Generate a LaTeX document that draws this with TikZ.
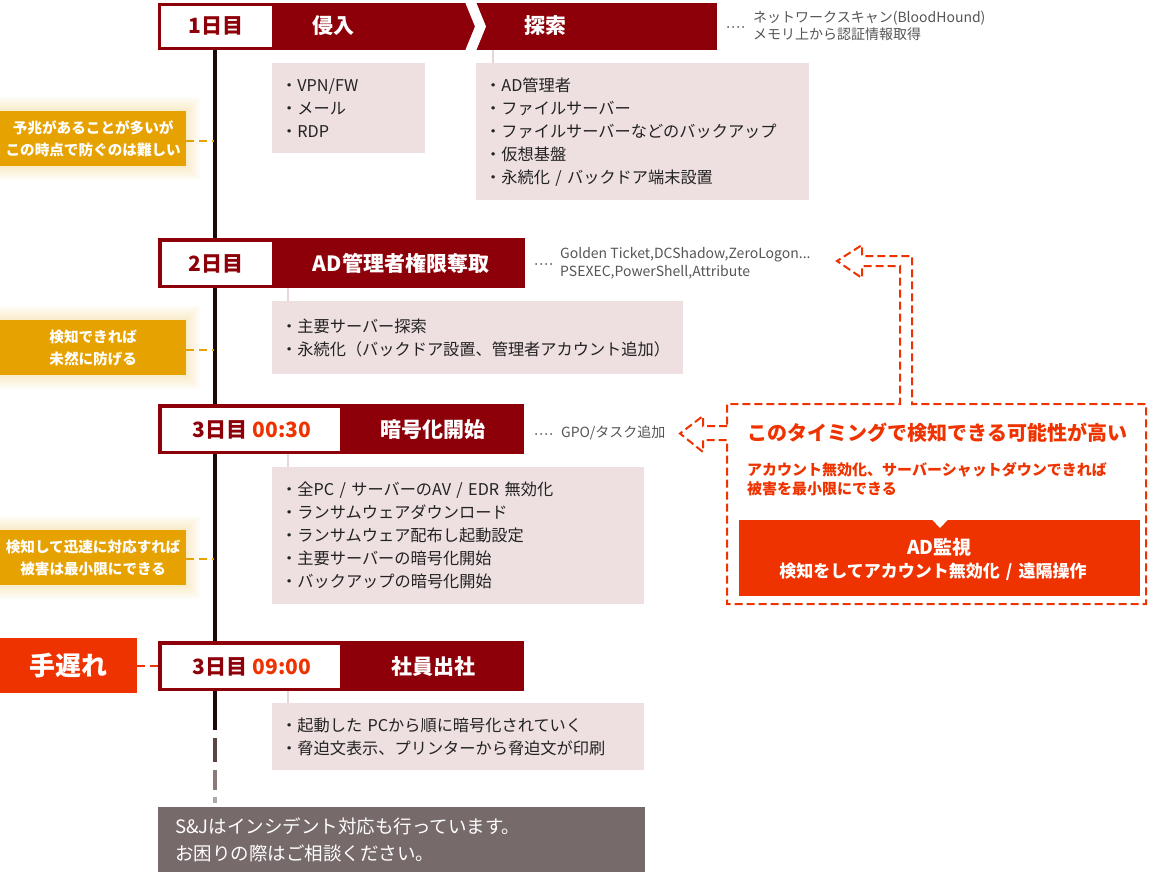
\documentclass[tikz,border=0pt]{standalone}
\usepackage{fontspec}
\setmainfont{Noto Sans CJK JP}
\definecolor{hdred}{HTML}{8E0009}
\definecolor{alertc}{HTML}{EE3300}
\definecolor{goldc}{HTML}{E6A200}
\definecolor{pinkc}{HTML}{EEE0E0}
\definecolor{pinkline}{HTML}{E8D6D6}
\definecolor{notegrey}{HTML}{555555}
\definecolor{txtdark}{HTML}{222222}
\definecolor{botgrey}{HTML}{776A6A}
\definecolor{tline}{HTML}{1C0A0A}
\newcommand\myglow[4]{%
  \foreach \r in {2,4,...,14}{\fill[goldc,opacity=0.03] (#1-\r,#2-\r) rectangle (#3+\r,#4+\r);}}
\newcommand\mydots[2]{%
  \foreach \i in {0,1,2,3}{\fill[notegrey] (#1+\i*5,#2) circle (1);}}
\tikzset{
  hdtxt/.style={text=white,inner sep=0,font=\fontsize{21}{21}\selectfont\bfseries},
  daytxt/.style={text=hdred,inner sep=0,font=\fontsize{21}{21}\selectfont\bfseries},
  pinkbox/.style={fill=pinkc,anchor=north west,inner xsep=9pt,inner ysep=0pt,align=left,
    text=txtdark,font=\fontsize{16.2}{23}\selectfont},
  notetxt/.style={anchor=west,align=left,inner sep=0,text=notegrey,font=\fontsize{14}{17.5}\selectfont},
  sidelbl/.style={fill=goldc,anchor=north west,minimum width=186pt,minimum height=55pt,inner sep=0,
    align=center,text=white,font=\fontsize{14.6}{22}\selectfont\bfseries},
  goldconn/.style={goldc,line width=2pt,dash pattern=on 8pt off 5pt},
  pinkconn/.style={pinkline,line width=2pt},
  alertline/.style={alertc,line width=2pt,dash pattern=on 8pt off 4pt,line join=miter},
}
\begin{document}
\begin{tikzpicture}[x=1pt,y=-1pt]
\useasboundingbox (0,0) rectangle (1149,872);

% ---------- timeline ----------
\coordinate (t0) at (215,50);
\coordinate (t1) at (215,730);
\coordinate (t2a) at (215,738); \coordinate (t2b) at (215,762);
\coordinate (t3a) at (215,770); \coordinate (t3b) at (215,790);
\coordinate (t4a) at (215,797); \coordinate (t4b) at (215,803);
\draw[tline,line width=4.5pt] (t0) -- (t1);
\draw[color={rgb,255:red,90;green,69;blue,69},line width=4.5pt] (t2a) -- (t2b);
\draw[color={rgb,255:red,138;green,122;blue,122},line width=4.5pt] (t3a) -- (t3b);
\draw[color={rgb,255:red,176;green,168;blue,168},line width=4.5pt] (t4a) -- (t4b);

% ---------- header 1 ----------
\fill[hdred] (158,3) rectangle (717,50);
\fill[white] (161,6) rectangle (272,47);
\fill[white] (465,2) -- (476,2) -- (486,26.5) -- (476,51) -- (465,51) -- (475,26.5) -- cycle;
\node[daytxt] (d1) at (216,26) {1日目};
\node[hdtxt] (h1a) at (333,26) {侵入};
\node[hdtxt] (h1b) at (545,26) {探索};
\mydots{728}{27}
\node[notetxt] (n1) at (753,26) {ネットワークスキャン(BloodHound)\\メモリ上から認証情報取得};

% detail boxes day 1
\node[pinkbox,minimum width=153pt,minimum height=90pt,text width=135pt] (bA) at (272,63)
  {・VPN/FW\\・メール\\・RDP};
\node[pinkbox,minimum width=333pt,minimum height=137pt,text width=315pt] (bB) at (476,63)
  {・AD管理者\\・ファイルサーバー\\・ファイルサーバーなどのバックアップ\\・仮想基盤\\・永続化 / バックドア端末設置};
\coordinate (cB1) at (493,50); \coordinate (cB2) at (493,63);
\draw[pinkconn] (cB1) -- (cB2);

% side label 1
\myglow{0}{111}{186}{166}
\node[sidelbl] (s1) at (0,111) {予兆があることが多いが\\この時点で防ぐのは難しい};
\coordinate (s1e) at (214,141);
\draw[goldconn] (s1.east |- s1e) -- (s1e);

% ---------- header 2 ----------
\fill[hdred] (158,238) rectangle (525,288);
\fill[white] (161.5,241.5) rectangle (272,284.5);
\node[daytxt] (d2) at (216,263.5) {2日目};
\node[hdtxt] (h2) at (401,263.5) {AD管理者権限奪取};
\mydots{536}{264}
\node[notetxt] (n2) at (560,263.5) {Golden Ticket,DCShadow,ZeroLogon...\\PSEXEC,PowerShell,Attribute};
\node[pinkbox,minimum width=411pt,minimum height=73pt,text width=393pt] (bC) at (272,301)
  {・主要サーバー探索\\・永続化（バックドア設置、管理者アカウント追加）};
\coordinate (cC1) at (288,288); \coordinate (cC2) at (288,301);
\draw[pinkconn] (cC1) -- (cC2);

% side label 2
\myglow{0}{320}{186}{375}
\node[sidelbl] (s2) at (0,320) {検知できれば\\未然に防げる};
\coordinate (s2e) at (214,350);
\draw[goldconn] (s2.east |- s2e) -- (s2e);

% ---------- header 3 ----------
\fill[hdred] (158,404) rectangle (524,454);
\fill[white] (161.5,407.5) rectangle (340,450.5);
\node[daytxt] (d3) at (252,429.5) {3日目 \textcolor{alertc}{00:30}};
\node[hdtxt] (h3) at (433,429.5) {暗号化開始};
\mydots{536}{434}
\node[notetxt] (n3) at (561,433) {GPO/タスク追加};
\node[pinkbox,minimum width=372pt,minimum height=137pt,text width=354pt] (bD) at (272,467)
  {・全PC / サーバーのAV / EDR 無効化\\・ランサムウェアダウンロード\\・ランサムウェア配布し起動設定\\・主要サーバーの暗号化開始\\・バックアップの暗号化開始};
\coordinate (cD1) at (288,454); \coordinate (cD2) at (288,467);
\draw[pinkconn] (cD1) -- (cD2);

% side label 3
\myglow{0}{530}{186}{585}
\node[sidelbl] (s3) at (0,530) {検知して迅速に対応すれば\\被害は最小限にできる};
\coordinate (s3e) at (214,559);
\draw[goldconn] (s3.east |- s3e) -- (s3e);

% ---------- header 4 ----------
\fill[hdred] (158,641) rectangle (524,691);
\fill[white] (161.5,644.5) rectangle (340,687.5);
\node[daytxt] (d4) at (252,666.5) {3日目 \textcolor{alertc}{09:00}};
\node[hdtxt] (h4) at (433,666.5) {社員出社};
\node[fill=alertc,anchor=north west,minimum width=137pt,minimum height=55pt,inner sep=0,
  text=white,font=\fontsize{26}{26}\selectfont\bfseries] (late) at (0,638) {手遅れ};
\coordinate (lateE) at (158,665.5);
\draw[alertc,line width=2pt,dash pattern=on 8pt off 5pt] (late.east |- lateE) -- (lateE);
\node[pinkbox,minimum width=372pt,minimum height=67pt,text width=354pt] (bE) at (272,703)
  {・起動した PCから順に暗号化されていく\\・脅迫文表示、プリンターから脅迫文が印刷};
\coordinate (cE1) at (288,691); \coordinate (cE2) at (288,703);
\draw[pinkconn] (cE1) -- (cE2);

% ---------- bottom box ----------
\node[fill=botgrey,anchor=north west,minimum width=487pt,minimum height=65pt,inner xsep=17pt,
  inner ysep=0,text width=453pt,align=left,text=white,font=\fontsize{18.5}{27}\selectfont] (bot) at (158,807)
  {S\&Jはインシデント対応も行っています。\\お困りの際はご相談ください。};

% ---------- right dashed box with arrows ----------
\draw[alertline] (727,426) -- (703,426) -- (703,416) -- (680,433.5) -- (703,452) -- (703,440)
  -- (727,440) -- (727,604) -- (1146,604) -- (1146,404) -- (912,404) -- (912,256) -- (862,256)
  -- (862,245) -- (837,261) -- (862,278) -- (862,266) -- (900,266) -- (900,404) -- (727,404) -- cycle;
\node[text=alertc,inner sep=0,font=\fontsize{20}{20}\selectfont\bfseries] (rt) at (937.5,433)
  {このタイミングで検知できる可能性が高い};
\node[anchor=west,align=left,inner sep=0,text=alertc,font=\fontsize{15}{19}\selectfont\bfseries] (rs) at (747,479.5)
  {アカウント無効化、サーバーシャットダウンできれば\\被害を最小限にできる};
\node[fill=alertc,anchor=north west,minimum width=401pt,minimum height=76pt,inner sep=0] (ad) at (739,520) {};
\fill[white] (932,519.5) -- (948,519.5) -- (940,528) -- cycle;
\node[text=white,inner sep=0,font=\fontsize{19}{19}\selectfont\bfseries] (ad1) at (939.5,547) {AD監視};
\node[text=white,inner sep=0,font=\fontsize{17}{17}\selectfont\bfseries] (ad2) at (933,572)
  {検知をしてアカウント無効化\hspace{6pt}/\hspace{6pt}遠隔操作};
\end{tikzpicture}
\end{document}
